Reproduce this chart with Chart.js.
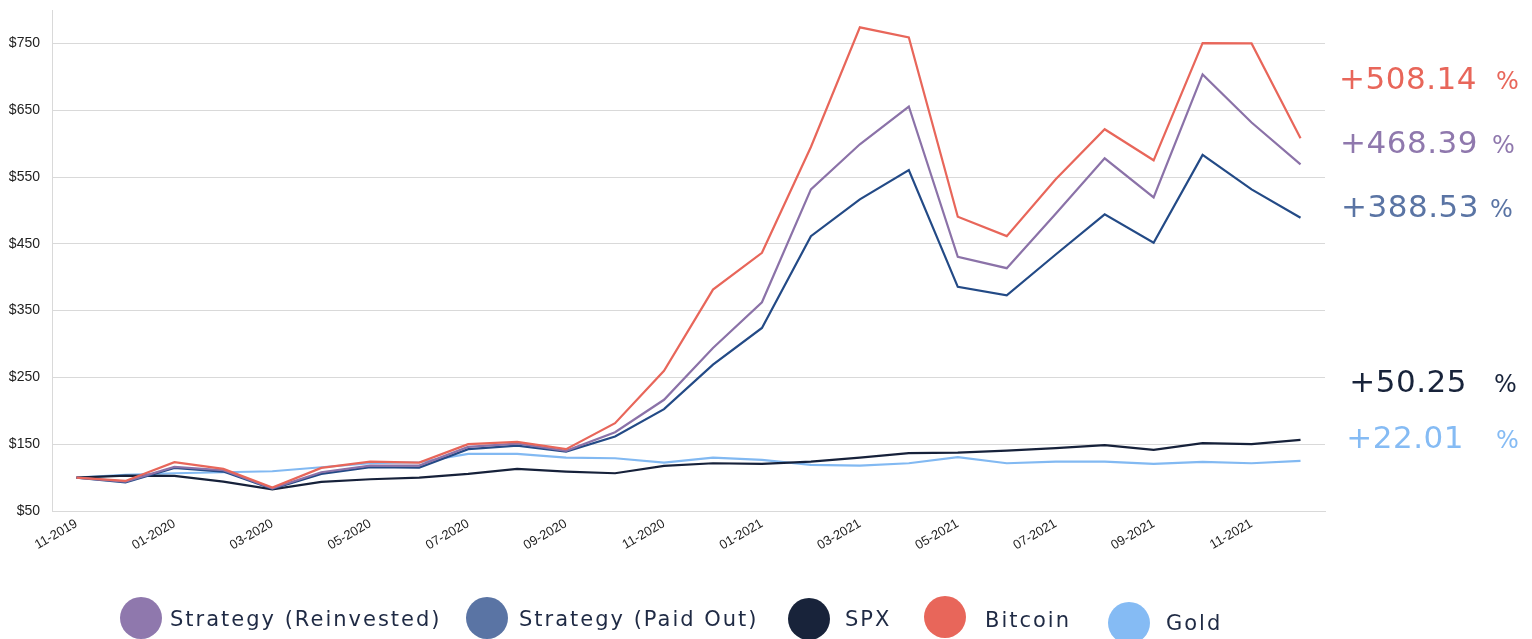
<!DOCTYPE html>
<html>
<head>
<meta charset="utf-8">
<script src="https://cdn.jsdelivr.net/npm/chart.js@4/dist/chart.umd.min.js"></script>
<style>
    html, body { margin: 0; padding: 0; background: #fff; }
    #wrap { width: 1532px; height: 639px; position: relative; }
</style>
</head>
<body>
<div id="wrap"><canvas id="chart"></canvas></div>
<script>
// month labels, one point per month
const months = ['11-2019', '12-2019', '01-2020', '02-2020', '03-2020', '04-2020', '05-2020', '06-2020',
    '07-2020', '08-2020', '09-2020', '10-2020', '11-2020', '12-2020', '01-2021', '02-2021', '03-2021',
    '04-2021', '05-2021', '06-2021', '07-2021', '08-2021', '09-2021', '10-2021', '11-2021', '12-2021']

const reinvested = [100, 94, 116, 111, 84, 108, 118, 118, 146, 151, 140, 168, 216.5, 294, 362.5, 531.5,
    599, 655.5, 430.5, 413.5, 495, 578, 519.5, 703.5, 631.5, 569]
const paidOut = [100, 93, 114.5, 109, 83, 105.5, 115.5, 115, 142.5, 148, 139, 161.5, 202.5, 269, 324, 461.5,
    516.5, 560.5, 385.5, 373, 434, 494, 451.5, 583, 531.5, 489]
const spx = [100, 103, 102.5, 94, 82.5, 93.5, 97.5, 100, 105.5, 113, 109, 106.5, 117.5, 121.5, 120.5, 124,
    130, 136.5, 137.5, 140.5, 144, 148.5, 141.5, 151.5, 150, 156.5]
const bitcoin = [100, 95, 123, 113, 85, 114.5, 124, 122.5, 150, 153.5, 142.5, 181.5, 260, 381.5, 436.5, 595,
    774, 759, 490.5, 461.5, 546.5, 621.5, 575, 750.5, 750, 608]
const gold = [100, 104, 106.5, 108, 109.5, 115.5, 121.5, 123, 135.5, 135.5, 130, 129, 122.5, 130, 126.5, 119,
    118, 121.5, 130.5, 121.5, 124, 124, 120.5, 123.5, 121.5, 125]

const seriesNames = ['Strategy (Reinvested)', 'Strategy (Paid Out)', 'SPX', 'Bitcoin', 'Gold']
const yTicks = [50, 150, 250, 350, 450, 550, 650, 750]

// total return labels on the right
const returnValues = ['+508.14', '+468.39', '+388.53', '+50.25', '+22.01']

const lineColors = ['#8b72a8', '#234a86', '#16213a', '#e8665a', '#82b9f2']
const dotColors = ['#8f78ad', '#5a74a4', '#18233a', '#e8665a', '#85bbf4']
const returnColors = ['#e8665a', '#8f78ad', '#5a74a4', '#18233a', '#85bbf4']
// baseline y, number right edge, % left edge
const returnPos = [[89, 1477, 1496], [153, 1478, 1492], [217, 1479, 1490], [392, 1467, 1494], [448, 1464, 1496]]
// legend: dot left edge, text start, dot center y, text center y
const legendPos = [[120, 170, 618, 621], [466, 519, 618, 621], [788, 845, 619, 621], [924, 985, 617, 622], [1108, 1166, 623, 625]]

//legend with big dots under the chart
const dotLegend = {
    id: 'dotLegend',
    afterDraw(chart) {
        const ctx = chart.ctx
        ctx.save()
        ctx.font = '21px "DejaVu Sans"'
        ctx.letterSpacing = '2px'
        ctx.textBaseline = 'middle'
        ctx.textAlign = 'left'
        chart.data.datasets.forEach((ds, i) => {
            const [dx, tx, dy, ty] = legendPos[i]
            ctx.fillStyle = dotColors[i]
            ctx.beginPath()
            ctx.arc(dx + 21, dy, 21, 0, Math.PI * 2)
            ctx.fill()
            ctx.fillStyle = '#1f2a44'
            ctx.fillText(ds.label, tx, ty)
        })
        ctx.restore()
    }
}

const returnsText = {
    id: 'returnsText',
    afterDraw(chart) {
        const ctx = chart.ctx
        ctx.save()
        ctx.textBaseline = 'alphabetic'
        returnValues.forEach((txt, i) => {
            const [by, right, pctX] = returnPos[i]
            ctx.fillStyle = returnColors[i]
            ctx.font = '31px "DejaVu Sans"'
            ctx.letterSpacing = '0.5px'
            ctx.textAlign = 'right'
            ctx.fillText(txt, right, by)
            ctx.font = '24px "DejaVu Sans"'
            ctx.letterSpacing = '0px'
            ctx.textAlign = 'left'
            ctx.fillText('%', pctX, by)
        })
        ctx.restore()
    }
}

const series = [reinvested, paidOut, spx, bitcoin, gold]
const drawOrder = [2, 3, 4, 1, 5]

const data = {
    labels: months,
    datasets: series.map((values, i) => ({
        label: seriesNames[i],
        data: values,
        borderColor: lineColors[i],
        backgroundColor: lineColors[i],
        borderWidth: 2.2,
        pointRadius: 0,
        tension: 0,
        fill: false,
        order: drawOrder[i],
    })),
}

const options = {
    responsive: true,
    maintainAspectRatio: false,
    animation: false,
    layout: {
        padding: { left: 0, top: 10, right: 207, bottom: 68 },
    },
    scales: {
        x: {
            offset: true,
            grid: { display: false, drawTicks: false },
            border: { display: true, color: '#d9d9d9' },
            ticks: {
                autoSkip: false,
                minRotation: 30,
                maxRotation: 30,
                padding: 5,
                color: '#222',
                font: { family: 'Liberation Sans', size: 13 },
                callback: function (val, idx) {
                    return idx % 2 === 0 ? this.getLabelForValue(val) : ''
                },
            },
            afterFit: (scale) => { scale.height = 60 },
        },
        y: {
            min: 50,
            max: 800,
            grid: { color: '#d9d9d9', drawTicks: false },
            border: { display: true, color: '#d9d9d9' },
            ticks: {
                padding: 12,
                color: '#222',
                font: { family: 'Liberation Sans', size: 14 },
                callback: (v) => '$' + v,
            },
            afterBuildTicks: (scale) => {
                scale.ticks = yTicks.map((v) => ({ value: v }))
            },
            afterFit: (scale) => {
                scale.width = 52
                scale.paddingTop = 0 // top tick is not at the top edge
            },
        },
    },
    plugins: {
        legend: { display: false },
        tooltip: { enabled: false },
    },
}

new Chart(document.getElementById('chart').getContext('2d'), {
    type: 'line',
    data: data,
    options: options,
    plugins: [dotLegend, returnsText],
})
</script>
</body>
</html>
